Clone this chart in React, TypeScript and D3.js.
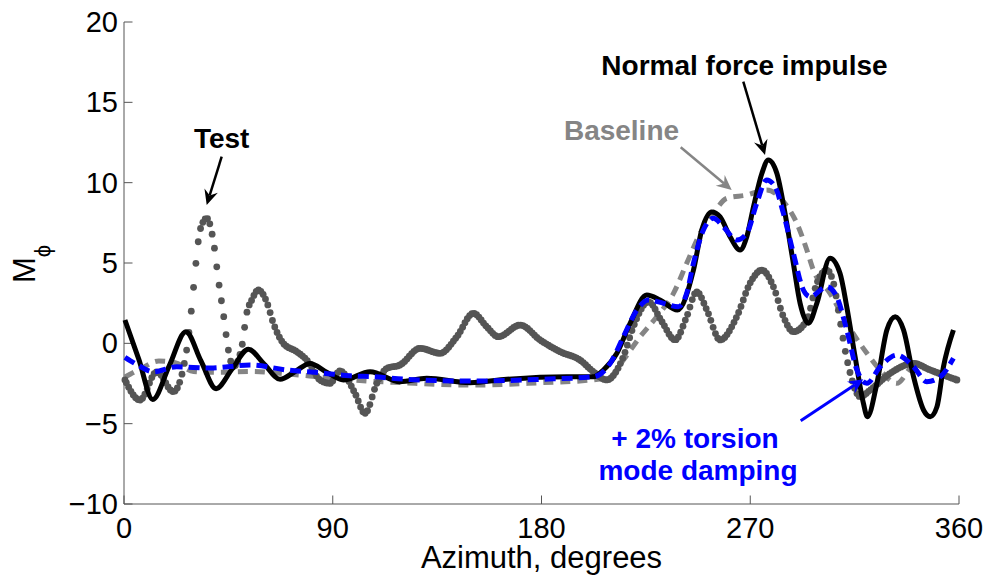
import React, { useEffect, useRef } from "react";
import * as d3 from "d3";

const xTicks = [0, 90, 180, 270, 360];
const yTicks = [-10, -5, 0, 5, 10, 15, 20];

// Normal force impulse (black solid)
const impulseAz = [0.4, 6.4, 12.4, 19.5, 26.7, 33.2, 39.7, 46.6, 53.6, 60.5, 67.3, 73.8, 80.2, 87.4, 94.6, 106.1, 119.0, 130.5, 149.2, 165.0, 190.9, 202.4, 206.7, 212.5, 218.2, 225.4, 231.1, 238.6, 245.5, 249.1, 253.4, 257.0, 261.3, 265.6, 268.5, 271.4, 275.0, 277.8, 281.5, 285.0, 288.6, 291.5, 295.1, 298.7, 304.4, 308.7, 311.6, 315.2, 318.8, 320.5, 324.6, 328.9, 332.5, 336.1, 340.4, 344.7, 347.6, 350.5, 353.3, 357.6];
const impulseM = [1.45, -1.0, -3.49, -1.4, 0.72, -1.1, -2.82, -1.6, -0.37, -1.3, -2.24, -1.75, -1.25, -1.8, -2.28, -1.77, -2.39, -2.18, -2.45, -2.24, -2.08, -2.08, -1.66, -0.62, 1.25, 3.01, 2.70, 2.07, 4.55, 7.05, 8.18, 7.87, 6.63, 5.81, 6.63, 8.5, 10.57, 11.41, 10.57, 8.08, 4.97, 2.49, 1.25, 2.49, 5.29, 4.36, 2.28, -0.83, -3.74, -4.57, -2.49, 0.83, 1.66, 0.83, -2.08, -4.15, -4.57, -3.95, -1.46, 0.83];

// + 2% torsion mode damping (blue dashed)
const dampAz = [0.4, 6.5, 12.5, 22.7, 37.1, 54.3, 70.2, 85.8, 97.5, 107.4, 121.9, 150.6, 179.4, 202.4, 209.6, 215.3, 221.1, 226.1, 232.6, 239.0, 242.6, 245.5, 249.8, 254.1, 258.4, 264.2, 268.5, 272.8, 277.1, 280.7, 284.3, 288.6, 292.9, 295.8, 303.0, 307.3, 311.6, 316.0, 320.3, 326.0, 333.2, 340.4, 346.1, 351.9, 357.6];
const dampM = [-0.87, -1.4, -1.77, -1.46, -1.54, -1.35, -1.66, -1.85, -2.02, -2.08, -2.24, -2.35, -2.24, -2.08, -1.25, 0.41, 2.07, 2.70, 2.49, 2.28, 3.11, 4.98, 7.05, 7.78, 7.26, 6.43, 6.85, 8.72, 10.17, 9.75, 8.09, 5.6, 3.32, 2.9, 3.52, 2.9, 0.83, -1.66, -2.49, -1.46, -0.73, -1.46, -2.39, -2.08, -0.93];

// Baseline (gray dashed)
const baseAz = [0.4, 7, 15, 22, 30, 40, 55, 70, 85, 100, 120, 150, 180, 200, 209.6, 215.3, 222.5, 229.7, 236.9, 242.6, 248.4, 254.1, 259.9, 268.5, 277.1, 284.3, 290.1, 294.4, 297.2, 304.4, 311.6, 320.3, 326.0, 333.2, 340.4, 347.6, 354.8, 358.8];
const baseM = [-2.1, -1.6, -1.1, -1.2, -1.75, -1.8, -1.75, -1.9, -2.1, -2.3, -2.45, -2.6, -2.45, -2.3, -2.08, -1.04, 0.41, 1.66, 3.11, 4.98, 6.85, 8.09, 9.03, 9.23, 9.55, 8.82, 7.47, 5.81, 4.56, 3.11, 1.25, -0.62, -1.66, -2.49, -1.46, -1.66, -2.08, -2.16];

// Test (gray dotted)
const testAz = [0.4, 6.9, 14.1, 21.3, 27.0, 29.2, 31.0, 32.8, 35.7, 38.9, 40.7, 42.8, 45.0, 47.1, 50.8, 52.9, 55.1, 57.9, 61.5, 64.4, 68.7, 74.5, 78.8, 84.5, 88.8, 93.1, 99.6, 103.9, 109.0, 113.3, 119.0, 127.6, 136.3, 143.5, 150.6, 156.4, 161.4, 170.8, 179.4, 188.0, 196.6, 202.4, 208.1, 215.3, 219.6, 226.1, 231.9, 237.6, 242.6, 246.9, 251.3, 257.0, 264.2, 269.9, 275.0, 280.0, 284.3, 288.6, 294.4, 298.7, 303.0, 305.9, 308.7, 310.9, 313.1, 317.4, 321.7, 330.3, 340.4, 347.6, 359.1];
const testM = [-2.28, -3.53, -1.77, -3.01, -0.42, 2.28, 4.98, 7.05, 7.78, 6.02, 3.94, 1.87, -0.42, -1.46, -0.21, 1.87, 2.70, 3.32, 2.59, 1.25, 0.0, -0.52, -1.04, -2.28, -2.49, -1.71, -3.11, -4.36, -2.49, -1.56, -1.35, -0.31, -0.62, 0.41, 1.87, 1.03, 0.41, 1.14, 0.21, -0.52, -1.04, -1.77, -2.28, -0.83, 1.03, 2.59, 1.35, 0.21, 1.66, 3.21, 2.07, 0.21, 1.66, 3.74, 4.56, 3.52, 1.66, 0.72, 1.45, 3.74, 4.56, 3.74, 1.45, -0.42, -1.87, -3.32, -2.91, -1.87, -1.25, -1.66, -2.28];

const W = 991;
const H = 577;
const FONT = "'Liberation Sans', Arial, Helvetica, sans-serif";

const x = d3.scaleLinear().domain([0, 360]).range([124, 959]);
const y = d3.scaleLinear().domain([-10, 20]).range([504, 22]);

const line = d3
  .line<[number, number]>()
  .x((d) => x(d[0]))
  .y((d) => y(d[1]))
  .curve(d3.curveMonotoneX);

const zip = (a: number[], b: number[]) => a.map((v, i) => [v, b[i]] as [number, number]);

function Arrow({ x1, y1, x2, y2, color, w }: { x1: number; y1: number; x2: number; y2: number; color: string; w: number }) {
  const dx = x2 - x1;
  const dy = y2 - y1;
  const len = Math.hypot(dx, dy);
  const ux = dx / len;
  const uy = dy / len;
  const nx = -uy;
  const ny = ux;
  const L = 15;
  const HW = 7;
  const notch = 5;
  const bx = x2 - ux * L;
  const by = y2 - uy * L;
  const pts = [
    [x2, y2],
    [bx + nx * HW, by + ny * HW],
    [x2 - ux * (L - notch), y2 - uy * (L - notch)],
    [bx - nx * HW, by - ny * HW],
  ];
  return (
    <g>
      <line x1={x1} y1={y1} x2={x2 - ux * (L - notch)} y2={y2 - uy * (L - notch)} stroke={color} strokeWidth={w} />
      <polygon points={pts.map((p) => p.join(",")).join(" ")} fill={color} />
    </g>
  );
}

export default function App() {
  const testPathRef = useRef<SVGPathElement>(null);
  const dotsRef = useRef<SVGGElement>(null);

  const testD = line(zip(testAz, testM)) || "";

  useEffect(() => {
    const path = testPathRef.current;
    if (!path) return;
    const total = path.getTotalLength();
    const targets: number[] = [testAz[0]];
    for (let k = Math.ceil(testAz[0]); k <= Math.floor(testAz[testAz.length - 1]); k++) targets.push(k);
    targets.push(testAz[testAz.length - 1]);
    const pts: { px: number; py: number }[] = [];
    targets.forEach((deg) => {
      const tx = x(deg);
      let lo = 0;
      let hi = total;
      for (let i = 0; i < 30; i++) {
        const mid = (lo + hi) / 2;
        const p = path.getPointAtLength(mid);
        if (p.x < tx) lo = mid;
        else hi = mid;
      }
      const p = path.getPointAtLength((lo + hi) / 2);
      pts.push({ px: p.x, py: p.y });
    });
    d3.select(dotsRef.current)
      .selectAll("circle")
      .data(pts)
      .join("circle")
      .attr("cx", (d) => d.px)
      .attr("cy", (d) => d.py)
      .attr("r", 3.4)
      .attr("fill", "#555555");
  }, [testD]);

  return (
    <svg
      width={W}
      height={H}
      viewBox={`0 0 ${W} ${H}`}
      style={{ position: "absolute", left: 0, top: 0, display: "block", background: "#fff" }}
      fontFamily={FONT}
    >
      <rect x={0} y={0} width={W} height={H} fill="#fff" />

      {/* axes */}
      <line x1={x(0)} y1={y(-10)} x2={x(0)} y2={y(20)} stroke="#555" strokeWidth={1} />
      <line x1={x(0)} y1={y(-10)} x2={x(360)} y2={y(-10)} stroke="#555" strokeWidth={1} />
      {xTicks.map((t) => (
        <g key={"xt" + t}>
          <line x1={x(t)} x2={x(t)} y1={y(-10)} y2={y(-10) - 8.5} stroke="#555" strokeWidth={1} />
          <text x={x(t)} y={538} textAnchor="middle" fontSize={29} fill="#000">
            {t}
          </text>
        </g>
      ))}
      {yTicks.map((t) => (
        <g key={"yt" + t}>
          <line x1={x(0)} x2={x(0) + 8.5} y1={y(t)} y2={y(t)} stroke="#555" strokeWidth={1} />
          <text x={118} y={y(t)} dy="0.35em" textAnchor="end" fontSize={29} fill="#000">
            {t < 0 ? "\u2212" + Math.abs(t) : t}
          </text>
        </g>
      ))}
      <text x={541.5} y={568} textAnchor="middle" fontSize={31} fill="#000">
        Azimuth, degrees
      </text>
      <text transform="translate(35,264) rotate(-90)" textAnchor="middle" fontSize={31} fill="#000">
        M
        <tspan fontSize={22} dy={15}>
          {"\u03D5"}
        </tspan>
      </text>

      {/* series */}
      <path d={line(zip(baseAz, baseM)) || ""} fill="none" stroke="#858585" strokeWidth={5} strokeDasharray="10 7" />
      <path ref={testPathRef} d={testD} fill="none" stroke="none" />
      <g ref={dotsRef} />
      <path d={line(zip(impulseAz, impulseM)) || ""} fill="none" stroke="#000" strokeWidth={5} strokeLinejoin="round" />
      <path d={line(zip(dampAz, dampM)) || ""} fill="none" stroke="#0000ff" strokeWidth={5} strokeDasharray="11 6" />

      {/* annotations */}
      <text x={221.7} y={148} textAnchor="middle" fontSize={28} fontWeight="bold" fill="#000">
        Test
      </text>
      <Arrow x1={221.7} y1={156.7} x2={206.7} y2={205} color="#000" w={2.5} />

      <text x={621.5} y={140} textAnchor="middle" fontSize={28} fontWeight="bold" fill="#858585">
        Baseline
      </text>
      <Arrow x1={680.7} y1={147.3} x2={731.7} y2={190} color="#858585" w={2.5} />

      <text x={744.5} y={75} textAnchor="middle" fontSize={28} fontWeight="bold" fill="#000">
        Normal force impulse
      </text>
      <Arrow x1={743.3} y1={81.7} x2={765} y2={155} color="#000" w={2.5} />

      <text x={695} y={448} textAnchor="middle" fontSize={28} fontWeight="bold" fill="#0000ff">
        + 2% torsion
      </text>
      <text x={698} y={480} textAnchor="middle" fontSize={28} fontWeight="bold" fill="#0000ff">
        mode damping
      </text>
      <Arrow x1={800.7} y1={420.7} x2={863.3} y2={379.3} color="#0000ff" w={3} />
    </svg>
  );
}
